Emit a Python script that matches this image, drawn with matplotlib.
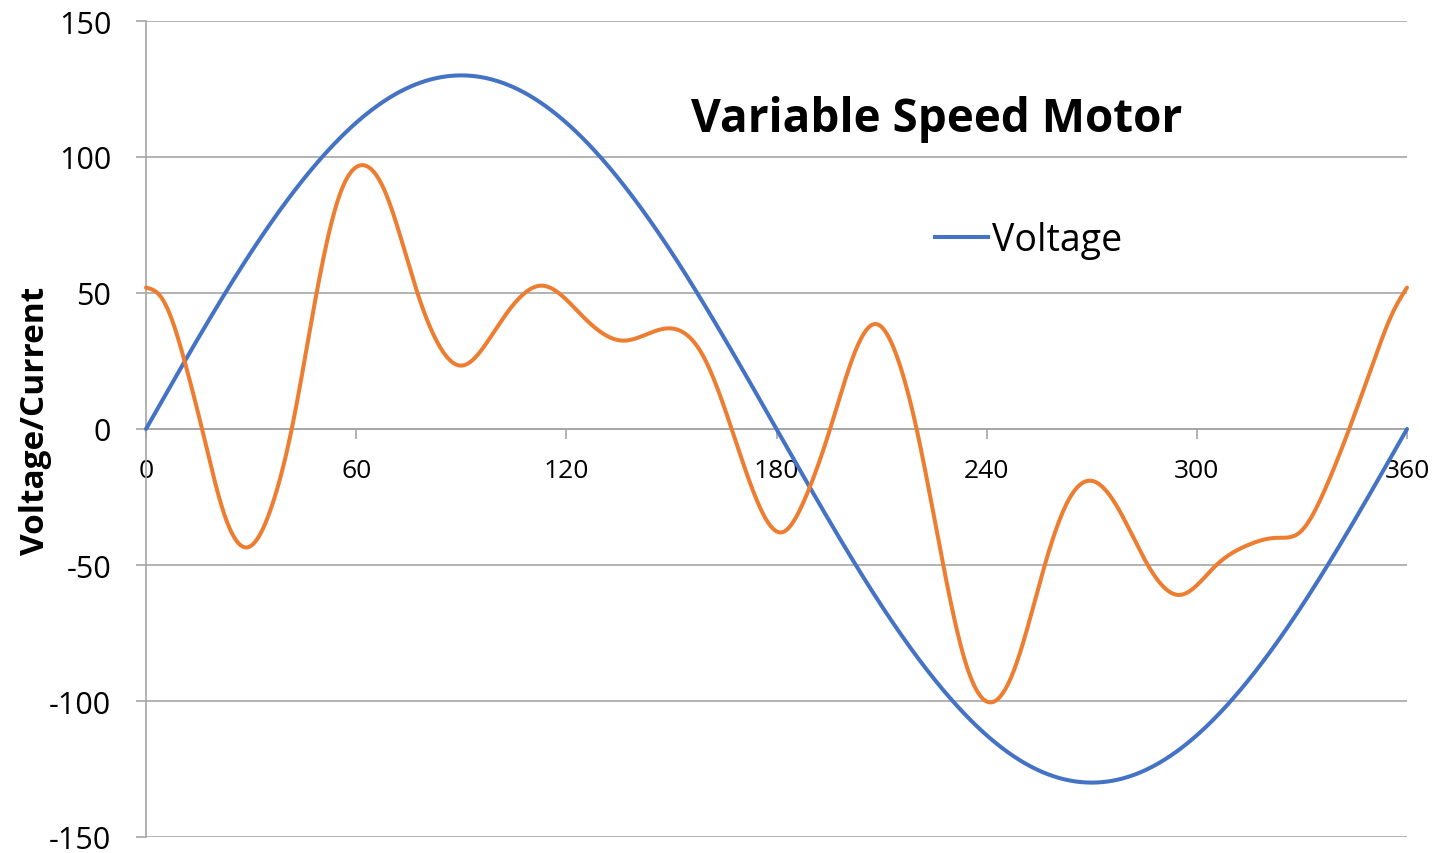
import numpy as np
import matplotlib
matplotlib.use("Agg")
import matplotlib.pyplot as plt
from matplotlib.lines import Line2D

# ---- data ----
angle_v = [0, 15, 30, 45, 60, 75, 90, 105, 120, 135, 150, 165, 180,
           195, 210, 225, 240, 255, 270, 285, 300, 315, 330, 345, 360]
voltage = [0, 33.6, 65, 91.9, 112.6, 125.6, 130, 125.6, 112.6, 91.9, 65, 33.6, 0,
           -33.6, -65, -91.9, -112.6, -125.6, -130, -125.6, -112.6, -91.9, -65, -33.6, 0]

angle_c = [0, 4, 8, 11, 16, 22, 29, 36, 41.6, 48.7, 55, 61.6, 68, 77.5, 84, 90,
           100, 113, 125, 136, 149, 159, 167.2, 174, 181.5, 188, 195.3, 202, 208.4,
           214, 220, 227.6, 234, 241, 248, 256.6, 263, 269.5, 277, 286, 295.2,
           305.6, 314, 322.8, 329.4, 337, 343.5, 350.4, 356, 360]
current = [52, 49, 38, 25, 0, -30, -43.5, -28, 0, 50, 85, 97, 88, 50, 30, 23.3,
           37, 52.7, 41, 32.5, 37, 27, 0, -25, -38, -26, 0, 27, 38.6,
           28, 0, -50, -86, -100.5, -88, -50, -27, -19, -28, -50, -61,
           -50, -43, -40, -38, -21, 0, 24.5, 43, 52]

x_ticks = [0, 60, 120, 180, 240, 300, 360]
y_ticks = [-150, -100, -50, 0, 50, 100, 150]
title = "Variable Speed Motor"
y_label = "Voltage/Current"
legend_label = "Voltage"


def smooth(xs, ys, n=2000):
    """Smoothed line through the points (natural cubic spline)."""
    x = np.asarray(xs, float)
    y = np.asarray(ys, float)
    m = len(x)
    h = np.diff(x)
    A = np.zeros((m, m))
    b = np.zeros(m)
    A[0, 0] = A[-1, -1] = 1
    for i in range(1, m - 1):
        A[i, i - 1] = h[i - 1]
        A[i, i] = 2 * (h[i - 1] + h[i])
        A[i, i + 1] = h[i]
        b[i] = 3 * ((y[i + 1] - y[i]) / h[i] - (y[i] - y[i - 1]) / h[i - 1])
    c = np.linalg.solve(A, b)
    bb = (y[1:] - y[:-1]) / h - h * (2 * c[:-1] + c[1:]) / 3
    d = (c[1:] - c[:-1]) / (3 * h)
    xx = np.linspace(x[0], x[-1], n)
    idx = np.clip(np.searchsorted(x, xx, side='right') - 1, 0, m - 2)
    dx = xx - x[idx]
    yy = y[idx] + bb[idx] * dx + c[idx] * dx ** 2 + d[idx] * dx ** 3
    return xx, yy


plt.rcParams['font.family'] = ['Open Sans', 'DejaVu Sans']

W, H = 1437, 854
fig = plt.figure(figsize=(W / 100, H / 100), dpi=100)
ax = fig.add_axes([146 / W, 1 - 838 / H, (1407 - 146) / W, (838 - 22) / H])

blue = '#4472C4'
orange = '#ED7D31'
grid_c = '#A6A6A6'

xv, yv = smooth(angle_v, voltage)
xc, yc = smooth(angle_c, current)
ax.plot(xv, yv, color=blue, lw=2.9, solid_capstyle='round', zorder=3, clip_on=False)
ax.plot(xc, yc, color=orange, lw=2.9, solid_capstyle='round', zorder=3, clip_on=False)

ax.set_xlim(0, 360)
ax.set_ylim(-150, 150)
ax.set_yticks(y_ticks)
ax.set_xticks(x_ticks)
ax.set_xticklabels([str(v) for v in x_ticks])
ax.set_yticklabels([str(v) for v in y_ticks])

for v in y_ticks:
    ax.axhline(v, color=grid_c, lw=1.2, zorder=1)

for s in ['top', 'right']:
    ax.spines[s].set_visible(False)
ax.spines['bottom'].set_position(('data', 0))
ax.spines['bottom'].set_color(grid_c)
ax.spines['bottom'].set_linewidth(1.2)
ax.spines['left'].set_color(grid_c)
ax.spines['left'].set_linewidth(1.2)

ax.tick_params(axis='y', direction='out', length=7, width=1.2, color=grid_c,
               labelsize=22, pad=18, labelcolor='black')
ax.tick_params(axis='x', direction='out', length=7, width=1.2, color=grid_c,
               labelsize=19, pad=14, labelcolor='black')

fig.text(937 / W, 1 - 132 / H, title, ha='center', va='baseline',
         fontsize=33, fontweight='bold')
fig.text(36 / W, 1 - 421 / H, y_label, rotation=90, ha='center', va='center',
         fontsize=24, fontweight='bold')

handle = Line2D([], [], color=blue, lw=2.9)
leg = ax.legend([handle], [legend_label], loc='center left',
                bbox_to_anchor=(935 / W, 1 - 241 / H), bbox_transform=fig.transFigure,
                frameon=False, fontsize=27, handlelength=1.4, handletextpad=0.13,
                borderpad=0, borderaxespad=0)

fig.savefig('out.png', dpi=100)
